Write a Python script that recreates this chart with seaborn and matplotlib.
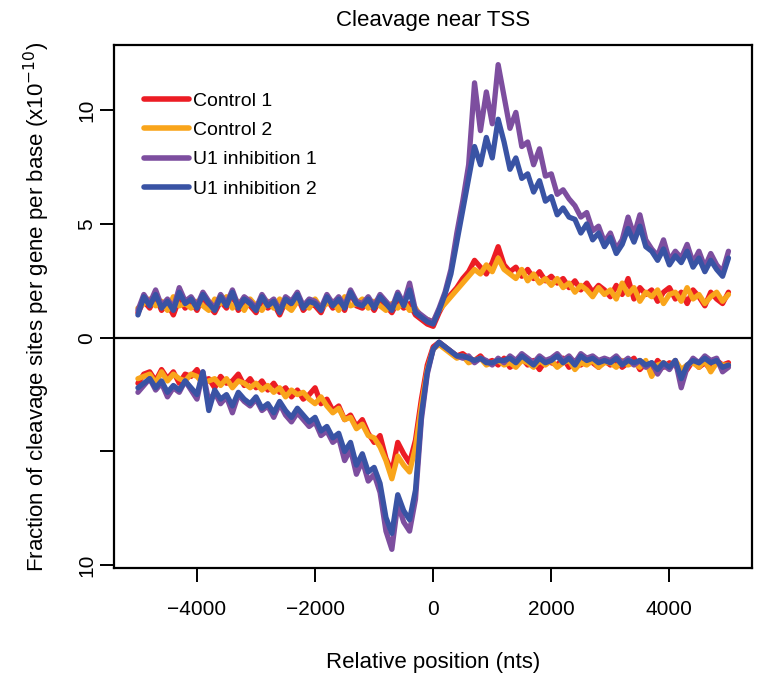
import matplotlib
matplotlib.use("Agg")
import matplotlib.pyplot as plt
import seaborn as sns
import numpy as np

# relative positions (nts), one value every 100 nts
positions = list(range(-5000, 5001, 100))

series_names = ["Control 1", "Control 2", "U1 inhibition 1", "U1 inhibition 2"]
series_colors = ["#EC1C24", "#F9A51B", "#7D4E9F", "#3953A4"]

# upper panel (sense), x1e-10
top_ctrl1 = [1.1, 1.6, 1.3, 1.8, 1.2, 1.5, 1.0, 1.7, 1.3, 1.6,
             1.2, 1.8, 1.4, 1.1, 1.6, 1.3, 1.9, 1.2, 1.5, 1.4,
             1.1, 1.7, 1.3, 1.5, 1.0, 1.6, 1.3, 1.8, 1.2, 1.5,
             1.4, 1.1, 1.7, 1.3, 1.6, 1.2, 2.0, 1.4, 1.3, 1.6,
             1.2, 1.7, 1.4, 1.1, 1.6, 1.3, 1.5, 1.0, 0.8, 0.6,
             0.5, 1.1, 1.6, 1.9, 2.2, 2.6, 2.9, 3.4, 3.1, 2.8,
             3.3, 4.0, 3.2, 2.9, 3.1, 2.7, 3.0, 2.6, 2.9, 2.5,
             2.7, 2.4, 2.6, 2.2, 2.5, 2.1, 2.4, 2.0, 2.3, 2.1,
             1.8, 2.3, 1.9, 2.6, 1.7, 2.2, 1.9, 2.1, 1.6, 2.0,
             2.2, 1.7, 2.0, 1.5, 2.1, 1.8, 1.4, 2.0, 1.7, 1.5,
             2.0]
top_ctrl2 = [1.3, 1.5, 1.7, 1.4, 1.6, 1.2, 1.8, 1.4, 1.5, 1.3,
             1.6, 1.4, 1.2, 1.7, 1.5, 1.8, 1.3, 1.6, 1.2, 1.7,
             1.4, 1.2, 1.6, 1.3, 1.7, 1.4, 1.2, 1.6, 1.5, 1.3,
             1.7, 1.3, 1.5, 1.6, 1.2, 1.8, 1.4, 1.5, 1.7, 1.3,
             1.6, 1.4, 1.2, 1.5, 1.3, 1.6, 1.2, 1.3, 0.9, 0.8,
             0.7, 1.2, 1.5, 1.8, 2.1, 2.4, 2.7, 3.0, 2.8, 3.2,
             2.9, 3.5, 3.0, 2.8, 2.6, 3.0, 2.5, 2.8, 2.4, 2.6,
             2.3, 2.6, 2.2, 2.4, 2.0, 2.3, 2.1, 1.8, 2.2, 1.9,
             2.1, 1.7, 2.4, 1.9, 2.2, 1.6, 2.0, 1.8, 2.1, 1.5,
             1.9, 2.0, 1.6, 2.2, 1.7, 1.9, 1.5, 1.8, 2.0, 1.6,
             1.9]
top_u1_1 = [1.2, 1.9, 1.5, 2.1, 1.4, 1.7, 1.3, 2.2, 1.6, 1.8,
            1.4, 2.0, 1.6, 1.3, 1.9, 1.5, 2.1, 1.4, 1.8, 1.6,
            1.3, 1.9, 1.5, 1.7, 1.2, 1.8, 1.6, 2.0, 1.4, 1.7,
            1.6, 1.3, 1.9, 1.5, 1.8, 1.4, 2.1, 1.6, 1.5, 1.8,
            1.4, 1.9, 1.6, 1.3, 2.0, 1.5, 2.4, 1.2, 1.0, 0.8,
            0.7, 1.3, 2.0, 3.0, 4.6, 6.0, 7.6, 11.2, 9.1, 10.8,
            9.4, 12.0, 10.6, 9.2, 9.9, 8.4, 8.6, 7.6, 8.3, 7.1,
            7.2, 6.3, 6.5, 6.1, 5.8, 5.3, 5.5, 4.7, 4.9, 4.2,
            4.6, 3.9, 4.3, 5.3, 4.5, 5.4, 4.3, 3.9, 3.6, 4.3,
            3.4, 3.8, 3.5, 4.1, 3.3, 3.8, 3.1, 3.7, 3.2, 2.9,
            3.8]
top_u1_2 = [1.0, 1.8, 1.4, 1.9, 1.3, 1.6, 1.2, 2.0, 1.5, 1.7,
            1.3, 1.9, 1.5, 1.2, 1.8, 1.4, 2.0, 1.3, 1.7, 1.5,
            1.2, 1.8, 1.4, 1.6, 1.1, 1.7, 1.5, 1.9, 1.3, 1.6,
            1.5, 1.2, 1.8, 1.4, 1.7, 1.3, 2.0, 1.5, 1.4, 1.7,
            1.3, 1.8, 1.5, 1.2, 1.9, 1.4, 2.1, 1.1, 0.9, 0.7,
            0.6, 1.2, 1.9, 2.8, 4.2, 5.6, 7.0, 8.4, 7.6, 8.8,
            7.9, 9.6, 8.6, 7.4, 7.9, 7.0, 7.2, 6.4, 6.9, 6.0,
            6.2, 5.4, 5.7, 5.3, 5.2, 4.6, 5.0, 4.3, 4.6, 4.0,
            4.4, 3.7, 4.1, 4.8, 4.2, 4.9, 4.0, 3.8, 3.4, 3.9,
            3.2, 3.6, 3.3, 3.8, 3.1, 3.5, 2.9, 3.4, 3.0, 2.7,
            3.5]

# lower panel (antisense), drawn downward, x1e-10
bot_ctrl1 = [2.0, 1.6, 1.5, 1.9, 1.4, 1.8, 1.5, 2.0, 1.6, 1.7,
             1.4, 1.9, 1.8, 2.2, 1.7, 2.0, 1.9, 1.6, 2.1, 1.8,
             2.2, 1.9, 2.3, 2.0, 2.4, 2.2, 2.6, 2.3, 2.7, 2.5,
             2.2, 2.9, 2.7, 3.2, 3.0, 3.6, 3.4, 3.9, 3.6, 4.2,
             4.6, 4.3, 5.3, 5.9, 4.6, 5.1, 5.5, 4.5, 2.7, 1.2,
             0.4, 0.2, 0.4, 0.6, 0.8, 0.7, 0.9, 1.0, 0.8, 1.1,
             1.0, 1.2, 0.9, 1.3, 1.1, 0.9, 1.2, 1.0, 1.4, 1.0,
             1.1, 1.2, 0.9, 1.3, 1.0, 1.2, 0.9, 1.1, 1.3, 1.0,
             1.2, 1.0, 1.3, 1.1, 0.9, 1.4, 1.1, 1.5, 1.0, 1.3,
             1.1, 1.2, 1.6, 1.4, 1.0, 1.3, 1.1, 1.4, 1.0, 1.2,
             1.1]
bot_ctrl2 = [1.8, 1.7, 1.6, 2.0, 1.5, 1.9, 1.6, 1.8, 1.9, 1.6,
             1.7, 2.0, 1.9, 1.8, 2.1, 1.8, 2.2, 1.9, 2.0, 2.2,
             2.0, 2.3, 2.1, 2.4, 2.2, 2.6, 2.3, 2.5, 2.4, 2.7,
             2.9, 2.6, 3.0, 3.3, 3.1, 3.6, 3.5, 4.0, 3.8, 4.3,
             4.4, 4.8, 5.4, 6.2, 5.2, 5.6, 5.9, 4.8, 3.0, 1.4,
             0.5, 0.3, 0.5, 0.7, 0.9, 0.8, 1.1, 1.0, 0.9, 1.2,
             1.1, 1.0, 1.2, 1.1, 1.3, 1.0, 1.1, 1.3, 1.0, 1.2,
             1.0, 1.3, 1.1, 1.0, 1.4, 1.1, 1.2, 1.0, 1.3, 1.1,
             1.1, 1.3, 1.0, 1.2, 1.1, 1.3, 1.0, 1.7, 1.2, 1.1,
             1.3, 1.0, 1.4, 1.2, 1.1, 1.3, 1.0, 1.5, 1.1, 1.2,
             1.2]
bot_u1_1 = [2.4, 2.1, 1.8, 2.3, 2.0, 2.6, 2.2, 2.4, 1.9, 2.3,
            2.7, 1.5, 2.8, 2.4, 2.9, 2.6, 3.3, 2.5, 2.8, 3.0,
            2.7, 3.2, 3.0, 3.5, 2.9, 3.4, 3.7, 3.3, 3.6, 3.9,
            3.7, 4.3, 4.1, 4.6, 4.4, 5.4, 4.9, 6.0, 5.4, 6.3,
            6.0, 6.8, 8.5, 9.3, 7.3, 8.1, 8.5, 7.1, 3.6, 1.6,
            0.5, 0.2, 0.4, 0.6, 0.8, 0.9, 0.8, 1.1, 0.9, 1.0,
            1.2, 0.9, 1.1, 0.8, 1.0, 0.7, 0.9, 1.1, 0.8, 1.0,
            0.9, 0.7, 1.0, 0.8, 1.1, 0.7, 0.9, 0.8, 1.0, 0.9,
            1.0, 0.8, 1.1, 0.9, 1.2, 1.0, 1.3, 1.1, 1.6, 1.2,
            1.4, 1.0, 2.2, 1.3, 0.9, 1.1, 0.8, 1.0, 0.9, 1.5,
            1.3]
bot_u1_2 = [2.2, 2.0, 1.8, 2.2, 1.9, 2.4, 2.1, 2.3, 1.9, 2.2,
            2.5, 1.5, 3.2, 2.3, 2.7, 2.5, 3.0, 2.4, 2.7, 2.9,
            2.6, 3.1, 2.9, 3.3, 2.8, 3.2, 3.5, 3.1, 3.4, 3.7,
            3.5, 4.1, 3.9, 4.4, 4.2, 5.0, 4.6, 5.6, 5.1, 5.9,
            5.7, 6.4, 7.9, 8.6, 6.9, 7.6, 8.0, 6.7, 3.4, 1.5,
            0.5, 0.2, 0.4, 0.6, 0.8, 0.8, 0.9, 1.0, 0.9, 1.1,
            1.1, 1.0, 1.0, 0.9, 1.1, 0.8, 1.0, 1.2, 0.9, 1.1,
            1.0, 0.8, 1.1, 0.9, 1.2, 0.8, 1.0, 0.9, 1.1, 1.0,
            1.1, 0.9, 1.2, 1.0, 1.1, 1.0, 1.2, 1.1, 1.4, 1.1,
            1.3, 1.0, 1.8, 1.2, 1.0, 1.1, 0.9, 1.1, 1.0, 1.3,
            1.2]

top_series = [top_ctrl1, top_ctrl2, top_u1_1, top_u1_2]
bot_series = [bot_ctrl1, bot_ctrl2, bot_u1_1, bot_u1_2]

sns.set_style("ticks")
plt.rcParams['font.family'] = ['Liberation Sans', 'DejaVu Sans']
plt.rcParams['text.color'] = 'black'
plt.rcParams['axes.labelcolor'] = 'black'
plt.rcParams['xtick.color'] = 'black'
plt.rcParams['ytick.color'] = 'black'

fig = plt.figure(figsize=(7.62, 6.86), dpi=100)
ax = fig.add_axes([0.150, 0.172, 0.837, 0.762])

for name, color, top, bot in zip(series_names, series_colors, top_series, bot_series):
    sns.lineplot(x=positions, y=top, color=color, linewidth=3.8, label=name, ax=ax)
    sns.lineplot(x=positions, y=[-v for v in bot], color=color, linewidth=3.8, ax=ax)

ax.axhline(0, color='black', linewidth=1.6, zorder=5)

ax.set_xlim(-5400, 5400)
ax.set_ylim(-10.12, 12.85)
ax.set_xticks([-4000, -2000, 0, 2000, 4000])
ax.set_yticks([10, 5, 0, -5, -10])
ax.set_yticklabels(['10', '5', '0', '', '10'])
ax.tick_params(axis='both', labelsize=15, length=10, width=1.4, color='black', labelcolor='black')
ax.tick_params(axis='x', pad=13)
ax.tick_params(axis='y', pad=3)
plt.setp(ax.get_yticklabels(), rotation=90, va='center')
for sp in ax.spines.values():
    sp.set_visible(True)
    sp.set_color('black')
    sp.set_linewidth(1.6)

ax.set_title('Cleavage near TSS', fontsize=16, pad=14)
ax.set_xlabel('Relative position (nts)', fontsize=16, labelpad=24)
ax.set_ylabel('Fraction of cleavage sites per gene per base (x10$^{-10}$)', fontsize=16, labelpad=18)

leg = ax.legend(loc='upper left', bbox_to_anchor=(0.035, 0.925), frameon=False, fontsize=14,
                handlelength=2.3, handletextpad=0.2, labelspacing=0.6, borderaxespad=0)
for line in leg.get_lines():
    line.set_linewidth(4)

fig.savefig('out.png', dpi=100)
